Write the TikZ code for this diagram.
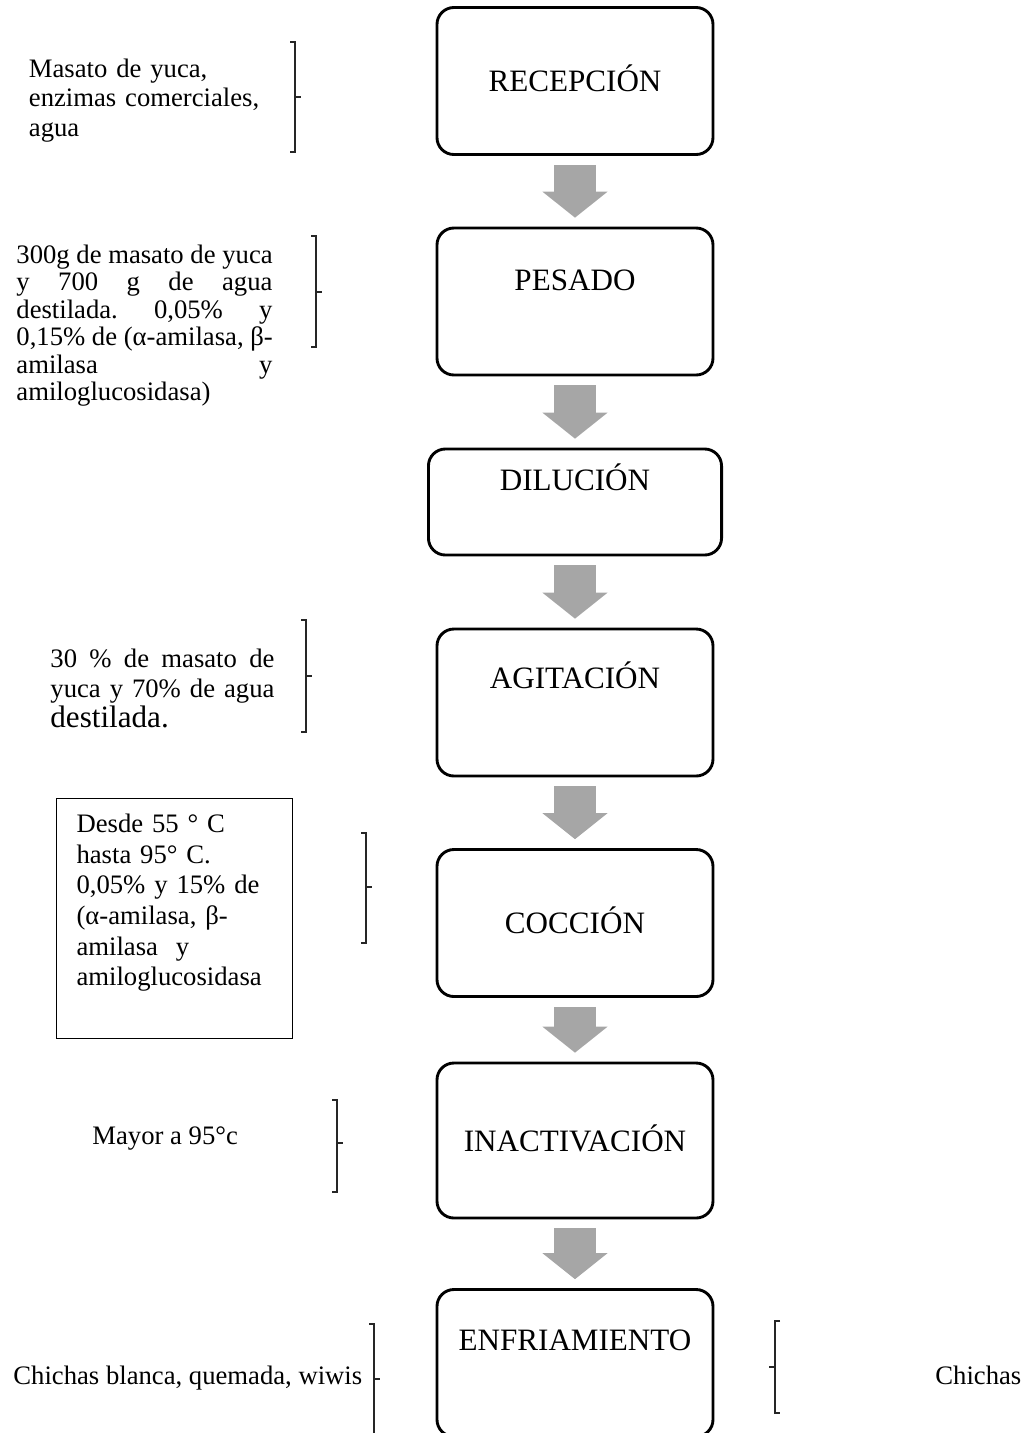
\documentclass[tikz,border=0pt]{standalone}
\usepackage{fontspec}
\setmainfont{Liberation Serif}
\usetikzlibrary{arrows.meta}
\definecolor{gris}{HTML}{A6A6A6}
\definecolor{tinta}{HTML}{000000}
\newcommand{\renglon}[2]{\leavevmode\hbox to #1{\frenchspacing\spaceskip=.25em plus 1fil\relax\xspaceskip=\spaceskip #2}}

\begin{document}
\begin{tikzpicture}[x=0.45pt,y=0.45pt]
  \tikzstyle{paso}=[rectangle,rounded corners=7.6pt,draw=tinta,line width=1.3pt,minimum width=124.2pt,minimum height=66.15pt,inner sep=0pt,text height=10pt,font=\fontsize{14}{16}\selectfont]
  \tikzstyle{flecha}=[draw=gris,line width=18.5pt,shorten <=4pt,shorten >=4pt,-{Triangle[width=29.3pt 0,length=11.7pt 0,line width=0pt 0]}]
  \tikzstyle{llave}=[draw=tinta!85,line width=0.6pt]
  \tikzstyle{nota}=[inner sep=0pt,anchor=base west,text=tinta,font=\fontsize{12}{13.8}\selectfont]
  \useasboundingbox (0,0) rectangle (1021,-1433);
  \node[paso,text depth=0.8pt] (recep) at (575,-81) {RECEPCIÓN};
  \node[paso,text depth=19.7pt] (pesado) at (575,-301.5) {PESADO};
  \node[paso,minimum width=131.9pt,minimum height=47.7pt,text depth=20.6pt] (dilucion) at (575,-502) {DILUCIÓN};
  \node[paso,text depth=22.4pt] (agitacion) at (575,-702.5) {AGITACIÓN};
  \node[paso,text depth=0.8pt] (coccion) at (575,-923) {COCCIÓN};
  \node[paso,minimum height=69.75pt,text depth=0pt] (inactivacion) at (575,-1140.5) {INACTIVACIÓN};
  \node[paso,text depth=21.5pt] (enfriamiento) at (575,-1363) {ENFRIAMIENTO};
  \draw[flecha] (recep) -- (pesado);
  \draw[flecha] (pesado) -- (dilucion);
  \draw[flecha] (dilucion) -- (agitacion);
  \draw[flecha] (agitacion) -- (coccion);
  \draw[flecha] (coccion) -- (inactivacion);
  \draw[flecha] (inactivacion) -- (enfriamiento);
  \node[nota,text width=110pt,align=left,font=\fontsize{12}{13.3}\selectfont] (insumos) at (28.5,-77) {Masato de yuca,\\enzimas comerciales,\\agua};
  \node[nota,text width=115.2pt,align=left,font=\fontsize{12}{12.4}\selectfont] (pesos) at (16,-263) {\renglon{115.2pt}{300g de masato de yuca}\\\renglon{115.2pt}{y 700 g de agua}\\\renglon{115.2pt}{destilada. 0,05\% y}\\\renglon{115.2pt}{0,15\% de (α-amilasa, β-}\\\renglon{115.2pt}{amilasa y}\\amiloglucosidasa)};
  \node[nota,text width=100.8pt,align=left,font=\fontsize{12}{13.5}\selectfont] (mezcla) at (50,-667) {\renglon{100.8pt}{30 \% de masato de}\\\renglon{100.8pt}{yuca y 70\% de agua}\\{\fontsize{14}{15.5}\selectfont destilada.}};
  \node[draw=tinta,line width=0.5pt,anchor=north west,inner xsep=9pt,inner ysep=0pt,text width=88.2pt,text height=15.3pt,text depth=92.7pt,align=left,font=\fontsize{12}{13.8}\selectfont] (temperatura) at (56,-798) {Desde 55 ° C\\hasta 95° C.\\0,05\% y 15\% de\\(α-amilasa, β-\\amilasa~ y\\amiloglucosidasa};
  \node[nota] (mayor) at (92,-1144) {Mayor a 95°c};
  \node[nota] (tipos) at (13,-1384) {Chichas blanca, quemada, wiwis};
  \node[nota] (chichas) at (935,-1384) {Chichas};
  \draw[llave] (290,-42) -| (295,-152) -- (290,-152) (295,-97) -- (301,-97);
  \draw[llave] (311,-236) -| (316,-347) -- (311,-347) (316,-292) -- (322,-292);
  \draw[llave] (301,-620) -| (306,-732) -- (301,-732) (306,-676) -- (312,-676);
  \draw[llave] (361,-833) -| (366,-943) -- (361,-943) (366,-887) -- (372,-887);
  \draw[llave] (332,-1100) -| (337,-1192) -- (332,-1192) (337,-1143) -- (343,-1143);
  \draw[llave] (369,-1324) -| (374,-1440) (374,-1379) -- (380,-1379);
  \draw[llave] (780,-1321) -| (775,-1413) -- (780,-1413) (775,-1367) -- (769,-1367);
\end{tikzpicture}
\end{document}
